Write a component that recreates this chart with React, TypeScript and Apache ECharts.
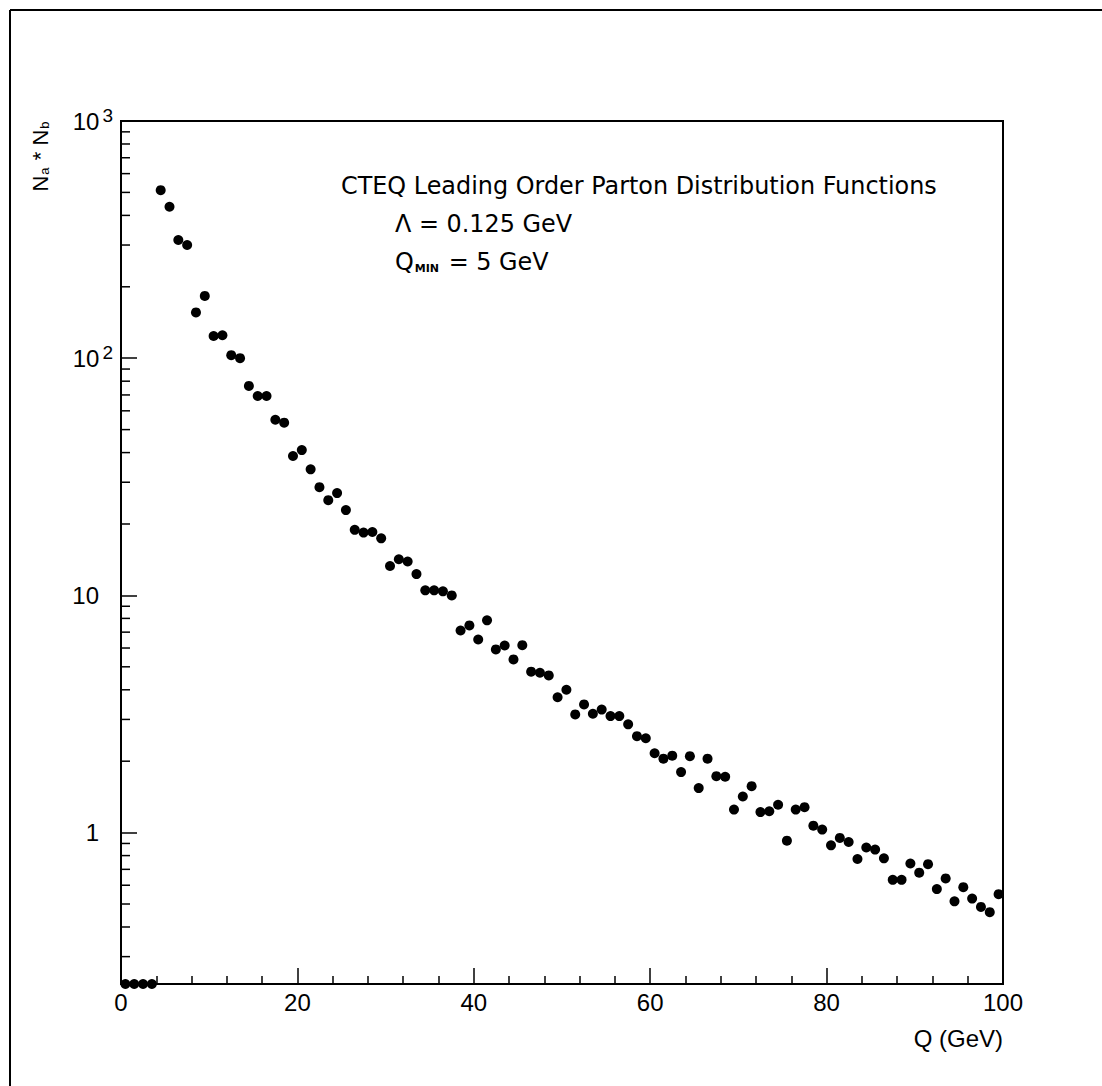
import React, { useEffect, useRef } from 'react';
import * as echarts from 'echarts';

// Bin centres of Q (GeV)
const binCenters = [
  0.5, 1.5, 2.5, 3.5, 4.5, 5.5, 6.5, 7.5, 8.5, 9.5,
  10.5, 11.5, 12.5, 13.5, 14.5, 15.5, 16.5, 17.5, 18.5, 19.5,
  20.5, 21.5, 22.5, 23.5, 24.5, 25.5, 26.5, 27.5, 28.5, 29.5,
  30.5, 31.5, 32.5, 33.5, 34.5, 35.5, 36.5, 37.5, 38.5, 39.5,
  40.5, 41.5, 42.5, 43.5, 44.5, 45.5, 46.5, 47.5, 48.5, 49.5,
  50.5, 51.5, 52.5, 53.5, 54.5, 55.5, 56.5, 57.5, 58.5, 59.5,
  60.5, 61.5, 62.5, 63.5, 64.5, 65.5, 66.5, 67.5, 68.5, 69.5,
  70.5, 71.5, 72.5, 73.5, 74.5, 75.5, 76.5, 77.5, 78.5, 79.5,
  80.5, 81.5, 82.5, 83.5, 84.5, 85.5, 86.5, 87.5, 88.5, 89.5,
  90.5, 91.5, 92.5, 93.5, 94.5, 95.5, 96.5, 97.5, 98.5, 99.5,
];

// Na * Nb per bin (first four bins lie on the lower axis edge)
const nProduct = [
  0.23, 0.23, 0.23, 0.23, 511, 435, 315, 300, 156, 183,
  124, 125, 103, 100, 76.4, 69.3, 69.3, 55, 53.5, 38.7,
  41, 34, 28.6, 25.2, 27, 22.9, 18.9, 18.4, 18.5, 17.4,
  13.3, 14.2, 13.9, 12.3, 10.5, 10.5, 10.4, 10.0, 7.11, 7.47,
  6.52, 7.85, 5.92, 6.15, 5.37, 6.17, 4.77, 4.72, 4.6, 3.72,
  4.0, 3.15, 3.47, 3.17, 3.3, 3.1, 3.1, 2.86, 2.55, 2.5,
  2.16, 2.05, 2.11, 1.8, 2.1, 1.54, 2.05, 1.73, 1.72, 1.25,
  1.42, 1.57, 1.22, 1.23, 1.31, 0.925, 1.25, 1.28, 1.07, 1.03,
  0.884, 0.95, 0.913, 0.774, 0.865, 0.848, 0.779, 0.632, 0.632, 0.741,
  0.678, 0.736, 0.578, 0.641, 0.513, 0.589, 0.527, 0.486, 0.462, 0.55,
];

const yMinorTicks = [
  0.3, 0.4, 0.5, 0.6, 0.7, 0.8, 0.9,
  2, 3, 4, 5, 6, 7, 8, 9,
  20, 30, 40, 50, 60, 70, 80, 90,
  200, 300, 400, 500, 600, 700, 800, 900,
];

const X_MIN = 0;
const X_MAX = 100;
const X_STEP = 20;
const Y_MIN = 0.23;
const Y_MAX = 1000;

const annotationLines = [
  'CTEQ Leading Order Parton Distribution Functions',
  '\u039B = 0.125 GeV',
  'Q{sub|MIN} = 5 GeV',
];

export default function App() {
  const ref = useRef<HTMLDivElement>(null);

  useEffect(() => {
    const chart = echarts.init(ref.current!, null, { renderer: 'svg' });
    const axisFont = 'Liberation Sans';
    const annFont = 'DejaVu Sans';

    chart.setOption({
      animation: false,
      backgroundColor: '#ffffff',
      grid: {
        left: 121,
        top: 121,
        right: 99,
        bottom: 102,
        show: true,
        borderColor: '#000',
        borderWidth: 2,
        backgroundColor: 'transparent',
      },
      xAxis: {
        type: 'value',
        min: X_MIN,
        max: X_MAX,
        interval: X_STEP,
        axisLine: { show: true, onZero: false, lineStyle: { color: '#000', width: 2 } },
        axisTick: { show: true, inside: true, length: 16, lineStyle: { color: '#000', width: 1.5 } },
        minorTick: { show: true, splitNumber: 5, length: 8, lineStyle: { color: '#000', width: 1.5 } },
        splitLine: { show: false },
        minorSplitLine: { show: false },
        axisLabel: { fontFamily: axisFont, fontSize: 24, color: '#000', margin: 6 },
      },
      yAxis: {
        type: 'log',
        logBase: 10,
        min: Y_MIN,
        max: Y_MAX,
        axisLine: { show: true, onZero: false, lineStyle: { color: '#000', width: 2 } },
        axisTick: { show: true, inside: true, length: 16, lineStyle: { color: '#000', width: 1.5 } },
        splitLine: { show: false },
        axisLabel: {
          margin: 8,
          color: '#000',
          fontFamily: axisFont,
          fontSize: 24,
          formatter: (v: number) => {
            const l = Math.log10(v);
            const e = Math.round(l);
            if (Math.abs(l - e) > 1e-6) return '';
            if (e === 0) return '{n|1}{sp| }';
            if (e === 1) return '{n|10}{sp| }';
            return '{n|10}{sup|' + e + '}';
          },
          rich: {
            n: { fontFamily: axisFont, fontSize: 24, lineHeight: 30, color: '#000' },
            sup: { fontFamily: axisFont, fontSize: 19, color: '#000', verticalAlign: 'top', padding: [0, 0, 0, 3] },
            sp: { fontFamily: axisFont, fontSize: 19, width: 14 },
          },
        },
      },
      series: [
        {
          type: 'scatter',
          data: binCenters.map((q, i) => [q, nProduct[i]]),
          symbol: 'circle',
          symbolSize: 10,
          itemStyle: { color: '#000', opacity: 1 },
          clip: false,
          silent: true,
          z: 5,
        },
        {
          type: 'custom',
          data: yMinorTicks.map((v) => [X_MIN, v]),
          silent: true,
          clip: false,
          renderItem: (_params: any, api: any) => {
            const p = api.coord([api.value(0), api.value(1)]);
            return {
              type: 'line',
              shape: { x1: p[0], y1: p[1], x2: p[0] + 9, y2: p[1] },
              style: { stroke: '#000', lineWidth: 1.5 },
            };
          },
        },
      ],
      graphic: [
        { type: 'line', shape: { x1: 10, y1: 10, x2: 1102, y2: 10 }, style: { stroke: '#000', lineWidth: 2 } },
        { type: 'line', shape: { x1: 10, y1: 10, x2: 10, y2: 1086 }, style: { stroke: '#000', lineWidth: 2 } },
        {
          type: 'text',
          x: 40,
          y: 156,
          rotation: Math.PI / 2,
          style: {
            text: 'N{s|a} * N{s|b}',
            fontFamily: axisFont,
            fontSize: 22,
            fill: '#000',
            align: 'center',
            verticalAlign: 'middle',
            rich: {
              s: { fontFamily: axisFont, fontSize: 13, fill: '#000', verticalAlign: 'bottom', padding: [0, 1, 0, 1] },
            },
          },
        },
        {
          type: 'text',
          x: 1003,
          y: 1038,
          style: {
            text: 'Q (GeV)',
            fontFamily: axisFont,
            fontSize: 24,
            fill: '#000',
            align: 'right',
            verticalAlign: 'middle',
          },
        },
        {
          type: 'text',
          x: 341,
          y: 186,
          style: { text: annotationLines[0], fontFamily: annFont, fontSize: 23.9, fill: '#000', align: 'left', verticalAlign: 'middle' },
        },
        {
          type: 'text',
          x: 395,
          y: 224,
          style: { text: annotationLines[1], fontFamily: annFont, fontSize: 23.9, fill: '#000', align: 'left', verticalAlign: 'middle' },
        },
        {
          type: 'text',
          x: 395,
          y: 262,
          style: {
            text: annotationLines[2],
            fontFamily: annFont,
            fontSize: 23.9,
            fill: '#000',
            align: 'left',
            verticalAlign: 'middle',
            rich: {
              sub: { fontFamily: annFont, fontSize: 11, fontWeight: 'bold', fill: '#000', verticalAlign: 'bottom', padding: [0, 2, 0, 1] },
            },
          },
        },
      ],
    });

    return () => chart.dispose();
  }, []);

  return (
    <div
      ref={ref}
      style={{ position: 'fixed', left: 0, top: 0, width: 1102, height: 1086, background: '#fff' }}
    />
  );
}
